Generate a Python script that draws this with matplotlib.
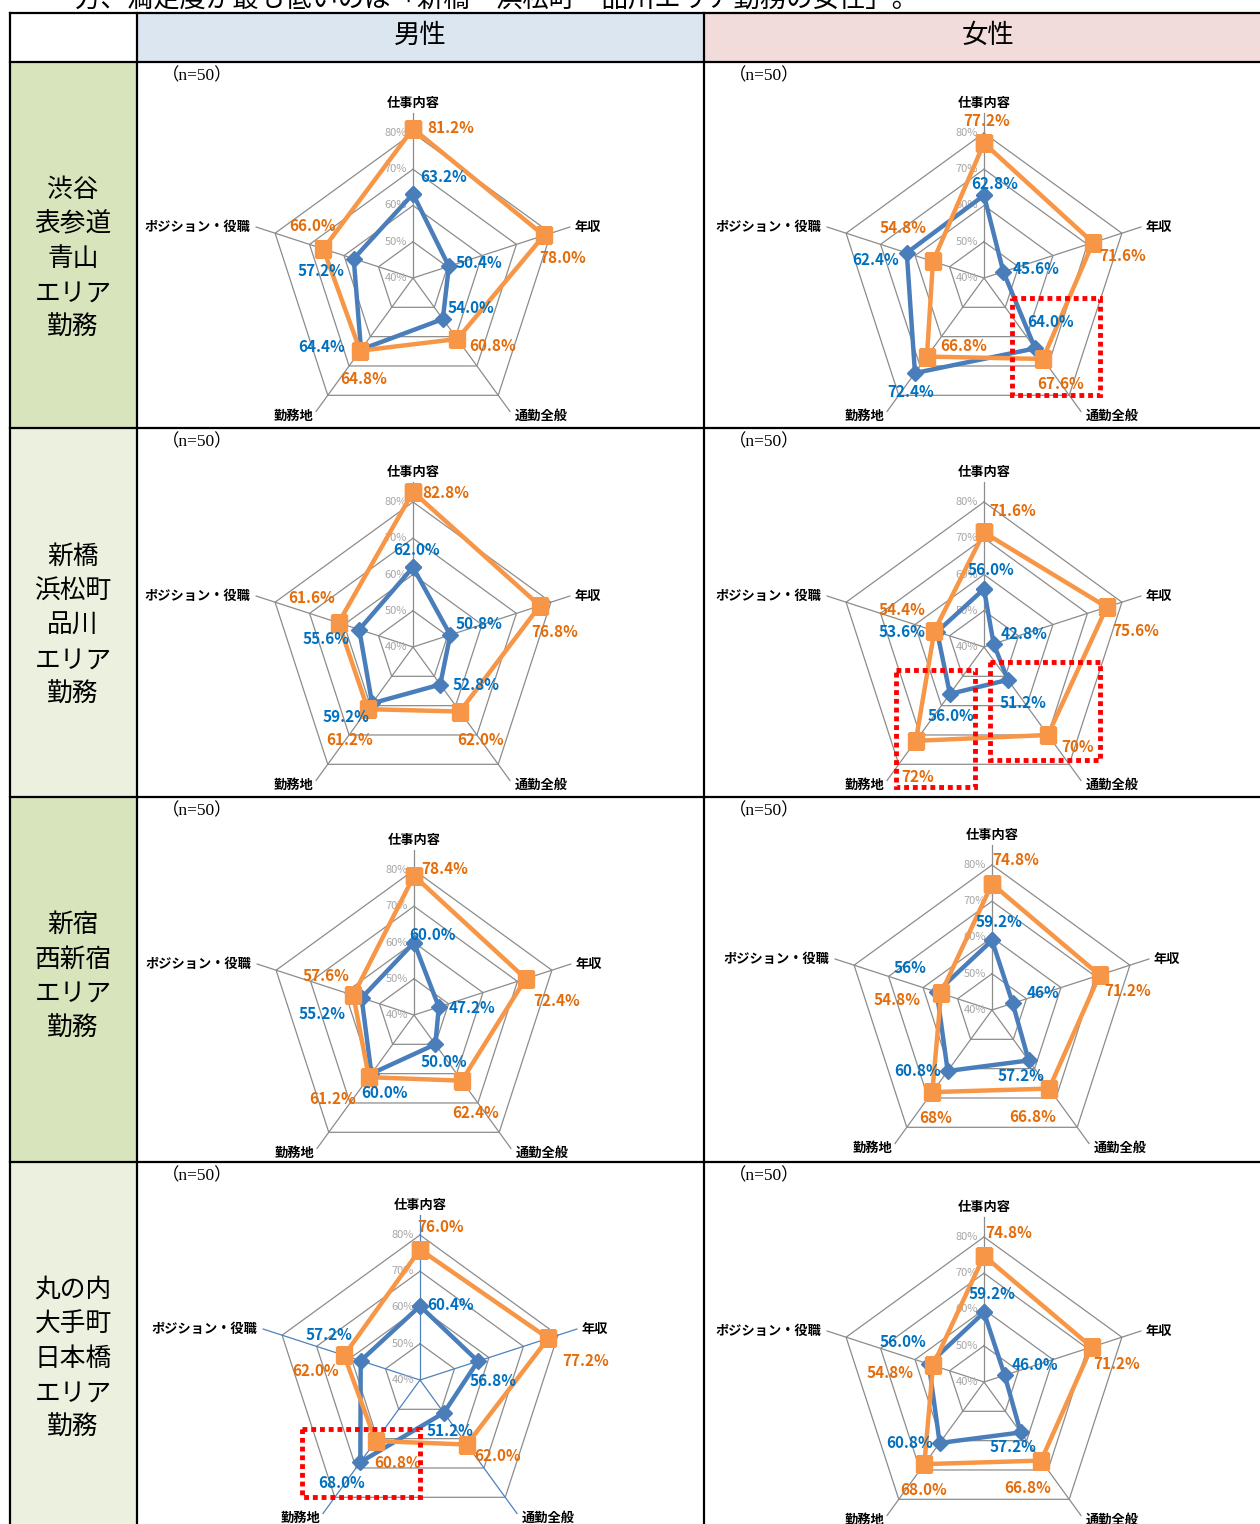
import matplotlib.pyplot as plt
import numpy as np
from matplotlib.patches import Rectangle

plt.rcParams['font.family'] = ['Noto Sans CJK JP', 'DejaVu Sans']

# ---- data ----
axis_names = ["仕事内容", "年収", "通勤全般", "勤務地", "ポジション・役職"]
columns = ["男性", "女性"]
area_lines = [["渋谷", "表参道", "青山", "エリア", "勤務"],
              ["新橋", "浜松町", "品川", "エリア", "勤務"],
              ["新宿", "西新宿", "エリア", "勤務"],
              ["丸の内", "大手町", "日本橋", "エリア", "勤務"]]
n_text = "（n=50）"
rticks = [40, 50, 60, 70, 80]
top_text = "方、満足度が最も低いのは「新橋・浜松町・品川エリア勤務の女性」。"

# [男性, 女性]
shibuya_blue = [[63.2, 50.4, 54.0, 64.4, 57.2], [62.8, 45.6, 64.0, 72.4, 62.4]]
shibuya_orange = [[81.2, 78.0, 60.8, 64.8, 66.0], [77.2, 71.6, 67.6, 66.8, 54.8]]
shinbashi_blue = [[62.0, 50.8, 52.8, 59.2, 55.6], [56.0, 42.8, 51.2, 56.0, 53.6]]
shinbashi_orange = [[82.8, 76.8, 62.0, 61.2, 61.6], [71.6, 75.6, 70.0, 72.0, 54.4]]
shinjuku_blue = [[60.0, 47.2, 50.0, 60.0, 55.2], [59.2, 46.0, 57.2, 60.8, 56.0]]
shinjuku_orange = [[78.4, 72.4, 62.4, 61.2, 57.6], [74.8, 71.2, 66.8, 68.0, 54.8]]
marunouchi_blue = [[60.4, 56.8, 51.2, 68.0, 57.2], [59.2, 46.0, 57.2, 60.8, 56.0]]
marunouchi_orange = [[76.0, 77.2, 62.0, 60.8, 62.0], [74.8, 71.2, 66.8, 68.0, 54.8]]

blue_data = [shibuya_blue, shinbashi_blue, shinjuku_blue, marunouchi_blue]
orange_data = [shibuya_orange, shinbashi_orange, shinjuku_orange, marunouchi_orange]

# labels shown without decimals  (row, col, series) -> indices
no_decimal = {(1, 1, 'o'): [2, 3], (2, 1, 'b'): [1, 4], (2, 1, 'o'): [3]}

# ---- layout ----
W, H = 1260, 1524
R80 = 145          # px from centre (40%) to 80% ring
RMAX = 86
SPOKE = 85.5
centers = [[(413, 278), (984, 278)], [(413, 647), (984, 647)],
           [(414, 1015), (992, 1010)], [(420, 1380), (984, 1382)]]
row_edges = [62, 428, 797, 1162]
row_first_line = [190, 557, 925, 1290]
row_bg = ['#D8E4BC', '#EBF1DE', '#D8E4BC', '#EBF1DE']

# label offsets (px) from marker, per row/col
blue_off = [
    [[(31, 17), (30, 3), (28, 11), (-39, 3), (-33, -12)],
     [(11, 11), (33, 3), (15, 26), (-4, -19), (-31, -7)]],
    [[(4, 17), (29, 11), (36, 0), (-26, -14), (-33, -9)],
     [(7, 19), (30, 10), (15, -23), (1, -22), (-35, 0)]],
    [[(19, 8), (33, -1), (9, -18), (13, -19), (-40, -16)],
     [(7, 18), (30, 10), (-8, -16), (-30, 0), (-27, 24)]],
    [[(31, 1), (15, -20), (6, -18), (-19, -21), (-32, 26)],
     [(8, 18), (30, 10), (-8, -15), (-30, 0), (-26, 22)]],
]
orange_off = [
    [[(38, 1), (19, -23), (35, -7), (4, -28), (-11, 23)],
     [(3, 22), (30, -13), (18, -25), (37, 11), (-30, 33)]],
    [[(33, -1), (15, -26), (21, -28), (-18, -31), (-27, 25)],
     [(29, 21), (29, -24), (30, -12), (2, -36), (-32, 21)]],
    [[(31, 7), (31, -22), (14, -32), (-36, -22), (-27, 19)],
     [(24, 24), (28, -16), (-16, -28), (3, -26), (-44, -7)]],
    [[(21, 22), (37, -23), (31, -11), (22, -22), (-29, -16)],
     [(25, 23), (25, -17), (-13, -27), (-1, -26), (-43, -8)]],
]
cat_place = [((0, 3), 'center', 'bottom'), ((5, 0), 'left', 'center'),
             ((5, 3), 'left', 'top'), ((-3, 3), 'right', 'top'),
             ((-6, 0), 'right', 'center')]

red_boxes = [(1012, 298, 1100, 395), (896, 670, 975, 787),
             (990, 662, 1100, 760), (302, 1429, 420, 1497)]

blue_line = '#4A7EBB'
orange_line = '#F79646'
blue_txt = '#0070C0'
orange_txt = '#E46C0A'
grid_c = '#8C8C8C'

fig = plt.figure(figsize=(W / 100, H / 100), dpi=100)

# ---- table background ----
bg = fig.add_axes([0, 0, 1, 1])
bg.set_xlim(0, W)
bg.set_ylim(H, 0)
bg.axis('off')
bg.add_patch(Rectangle((137, 13), 704 - 137, 49, color='#DCE6F1', lw=0))
bg.add_patch(Rectangle((704, 13), W - 704, 49, color='#F2DCDB', lw=0))
edges = row_edges + [H + 5]
for i in range(4):
    bg.add_patch(Rectangle((10, edges[i]), 127, edges[i + 1] - edges[i],
                           color=row_bg[i], lw=0))
for y in [13] + row_edges:
    bg.plot([10, W], [y, y], color='black', lw=1.6)
for x in [10, 137, 704]:
    bg.plot([x, x], [13, H], color='black', lw=1.6)

bg.text(75, -1, top_text, fontsize=19, ha='left', va='center')
bg.text(420, 35, columns[0], fontsize=19, ha='center', va='center')
bg.text(988, 35, columns[1], fontsize=19, ha='center', va='center')

for i, lines in enumerate(area_lines):
    for k, s in enumerate(lines):
        bg.text(73, row_first_line[i] + k * 34.5, s, fontsize=18.5,
                ha='center', va='center')
    for x0 in [137, 704]:
        bg.text(x0 + 25, row_edges[i] + 14, n_text, fontsize=12.5,
                family=['Liberation Serif', 'Noto Sans CJK JP'],
                ha='left', va='center')


def fmt(v, idx, key):
    if idx in no_decimal.get(key, []):
        return "%d%%" % round(v)
    return "%.1f%%" % v


th = np.arange(5) * 2 * np.pi / 5
thc = np.append(th, th[0])

for r in range(4):
    for c in range(2):
        cx, cy = centers[r][c]
        rax = R80 * (RMAX - 40) / 40
        ax = fig.add_axes([(cx - rax) / W, (H - cy - rax) / H,
                           2 * rax / W, 2 * rax / H], projection='polar')
        ax.set_theta_zero_location('N')
        ax.set_theta_direction(-1)
        ax.axis('off')

        for lv in rticks[1:]:
            ax.plot(thc, [lv] * 6, color=grid_c, lw=0.9, zorder=1)
        spoke_c = '#4F81BD' if (r, c) == (3, 0) else grid_c
        for t in th:
            ax.plot([t, t], [40, SPOKE], color=spoke_c, lw=0.9, zorder=1)
        for lv in rticks:
            ax.annotate("%d%%" % lv, xy=(0, lv), xytext=(-6, 0),
                        textcoords='offset pixels', ha='right', va='center',
                        fontsize=8, color='#A6A6A6', zorder=2)

        b = blue_data[r][c]
        o = orange_data[r][c]
        ax.plot(thc, b + [b[0]], color=blue_line, lw=3.2, marker='D',
                ms=8, zorder=3)
        ax.plot(thc, o + [o[0]], color=orange_line, lw=3.2, marker='s',
                ms=11, zorder=4)

        for i in range(5):
            ax.annotate(fmt(b[i], i, (r, c, 'b')), xy=(th[i], b[i]),
                        xytext=blue_off[r][c][i], textcoords='offset pixels',
                        ha='center', va='center', fontsize=11,
                        fontweight='bold', color=blue_txt, zorder=5)
            ax.annotate(fmt(o[i], i, (r, c, 'o')), xy=(th[i], o[i]),
                        xytext=orange_off[r][c][i], textcoords='offset pixels',
                        ha='center', va='center', fontsize=11,
                        fontweight='bold', color=orange_txt, zorder=5)
            off, ha, va = cat_place[i]
            ax.annotate(axis_names[i], xy=(th[i], SPOKE), xytext=off,
                        textcoords='offset pixels', ha=ha, va=va,
                        fontsize=9.5, fontweight='bold', color='black')
        ax.set_rlim(40, RMAX)

# ---- red dotted boxes on top ----
top = fig.add_axes([0, 0, 1, 1])
top.set_xlim(0, W)
top.set_ylim(H, 0)
top.axis('off')
for x0, y0, x1, y1 in red_boxes:
    top.add_patch(Rectangle((x0, y0), x1 - x0, y1 - y0, fill=False,
                            edgecolor='#FF0000', lw=3.5,
                            linestyle=(0, (1, 0.8))))

fig.savefig('out.png', dpi=100)
